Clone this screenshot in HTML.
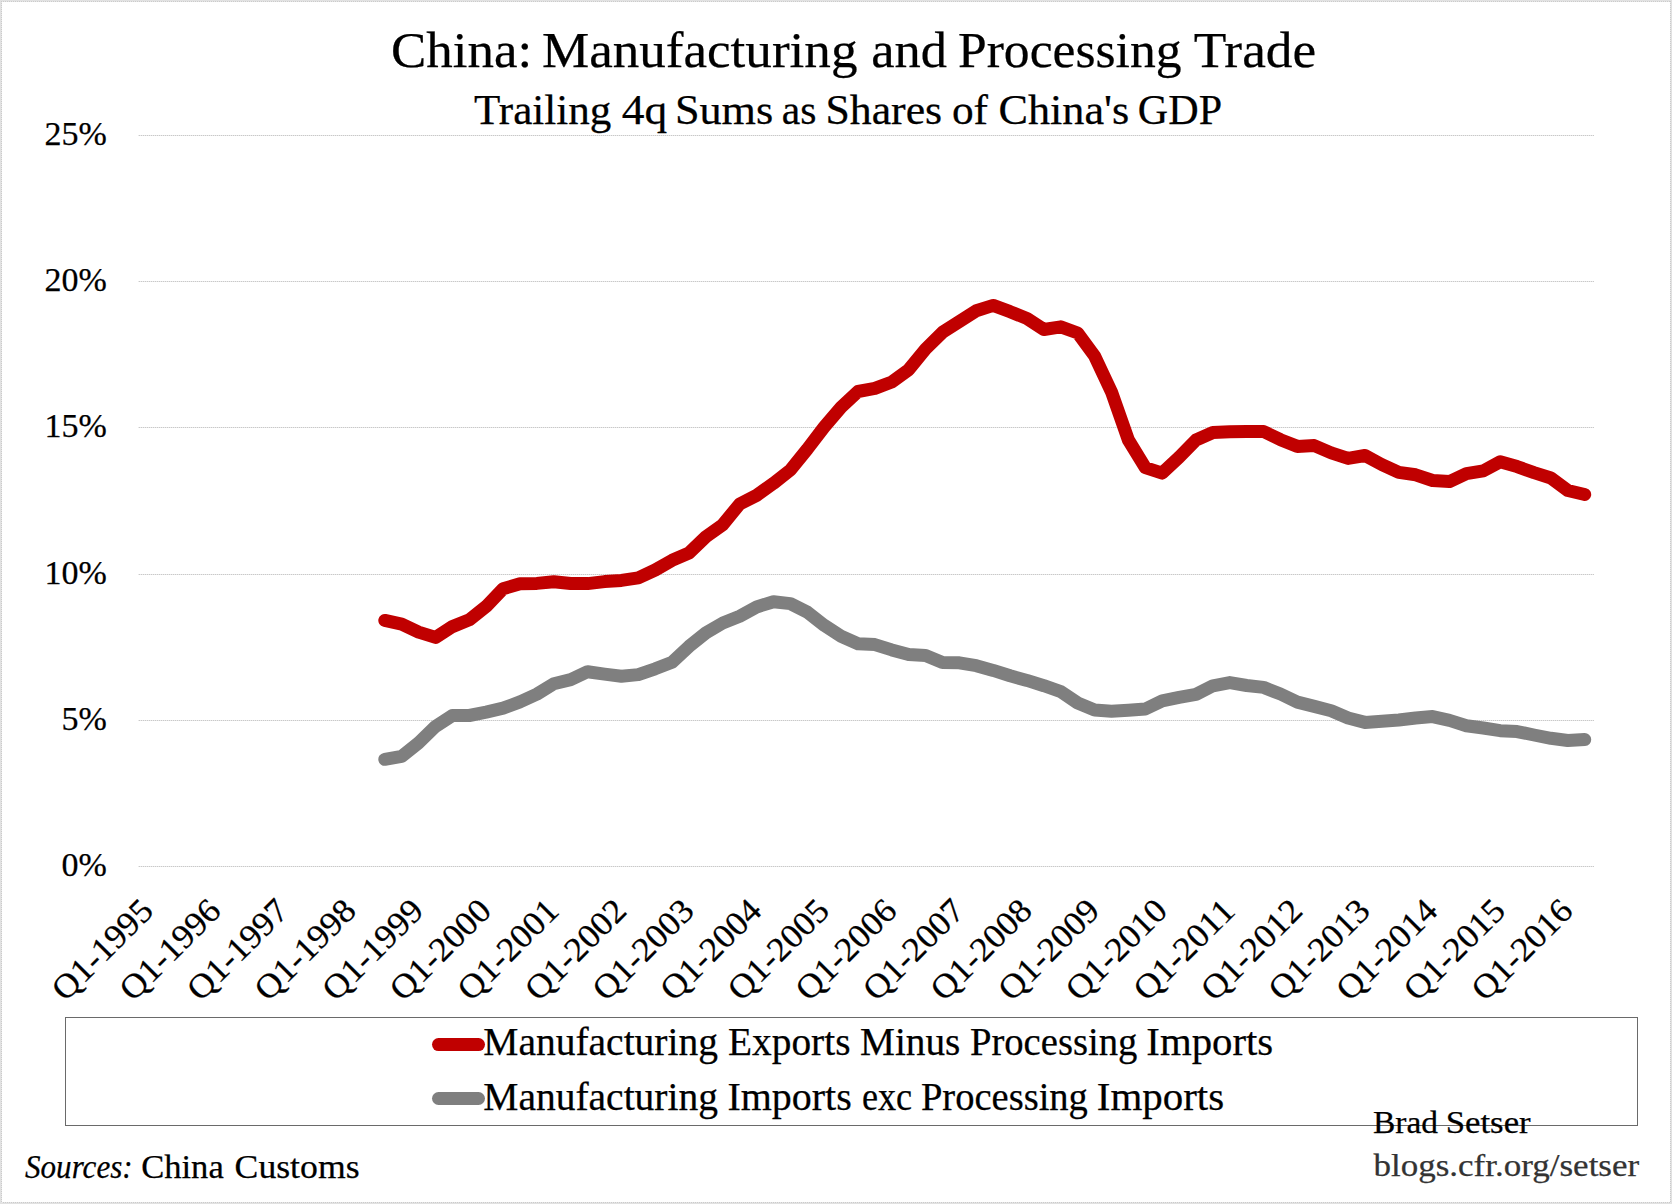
<!DOCTYPE html>
<html lang="en"><head><meta charset="utf-8"><title>China: Manufacturing and Processing Trade</title>
<style>
html,body{margin:0;padding:0;background:#fff;}
body{width:1672px;height:1204px;overflow:hidden;}
svg{display:block;font-family:"Liberation Serif", serif;}
text{fill:#000;stroke:#000;stroke-width:0.25px;}
</style></head><body>
<svg width="1672" height="1204" viewBox="0 0 1672 1204">
<rect x="0" y="0" width="1672" height="1204" fill="#fff"/>

<rect x="0.5" y="0.5" width="1671" height="1203" fill="none" stroke="#e1e1e1" stroke-width="1"/>
<defs><pattern id="ph" width="2" height="1" patternUnits="userSpaceOnUse"><rect width="2" height="1" fill="#e6e6e6"/><rect x="1" width="1" height="1" fill="#cbcbcb"/></pattern><pattern id="pg" width="2" height="1" patternUnits="userSpaceOnUse"><rect width="2" height="1" fill="#e9e9e9"/><rect x="1" width="1" height="1" fill="#c9c9c9"/></pattern><pattern id="pv" width="1" height="2" patternUnits="userSpaceOnUse"><rect width="1" height="2" fill="#e6e6e6"/><rect y="1" width="1" height="1" fill="#cbcbcb"/></pattern></defs>
<g shape-rendering="crispEdges"><rect x="1" y="1" width="1670" height="1" fill="url(#ph)"/><rect x="1" y="1202" width="1670" height="1" fill="url(#ph)"/><rect x="1" y="1" width="1" height="1202" fill="url(#pv)"/><rect x="1670" y="1" width="1" height="1202" fill="url(#pv)"/></g>
<rect x="138" y="135" width="1456" height="1" fill="url(#pg)" shape-rendering="crispEdges"/>
<rect x="138" y="281" width="1456" height="1" fill="url(#pg)" shape-rendering="crispEdges"/>
<rect x="138" y="427" width="1456" height="1" fill="url(#pg)" shape-rendering="crispEdges"/>
<rect x="138" y="574" width="1456" height="1" fill="url(#pg)" shape-rendering="crispEdges"/>
<rect x="138" y="720" width="1456" height="1" fill="url(#pg)" shape-rendering="crispEdges"/>
<rect x="138" y="866" width="1456" height="1" fill="url(#pg)" shape-rendering="crispEdges"/>
<text x="106.8" y="145.2" font-size="34" text-anchor="end">25%</text>
<text x="106.8" y="291.2" font-size="34" text-anchor="end">20%</text>
<text x="106.8" y="437.2" font-size="34" text-anchor="end">15%</text>
<text x="106.8" y="584.2" font-size="34" text-anchor="end">10%</text>
<text x="106.8" y="730.2" font-size="34" text-anchor="end">5%</text>
<text x="106.8" y="876.2" font-size="34" text-anchor="end">0%</text>
<text transform="translate(155.1,912.7) rotate(-45)" font-size="34" text-anchor="end" textLength="127" lengthAdjust="spacingAndGlyphs">Q1-1995</text>
<text transform="translate(222.7,912.7) rotate(-45)" font-size="34" text-anchor="end" textLength="127" lengthAdjust="spacingAndGlyphs">Q1-1996</text>
<text transform="translate(290.3,912.7) rotate(-45)" font-size="34" text-anchor="end" textLength="127" lengthAdjust="spacingAndGlyphs">Q1-1997</text>
<text transform="translate(357.9,912.7) rotate(-45)" font-size="34" text-anchor="end" textLength="127" lengthAdjust="spacingAndGlyphs">Q1-1998</text>
<text transform="translate(425.5,912.7) rotate(-45)" font-size="34" text-anchor="end" textLength="127" lengthAdjust="spacingAndGlyphs">Q1-1999</text>
<text transform="translate(493.1,912.7) rotate(-45)" font-size="34" text-anchor="end" textLength="127" lengthAdjust="spacingAndGlyphs">Q1-2000</text>
<text transform="translate(560.7,912.7) rotate(-45)" font-size="34" text-anchor="end" textLength="127" lengthAdjust="spacingAndGlyphs">Q1-2001</text>
<text transform="translate(628.3,912.7) rotate(-45)" font-size="34" text-anchor="end" textLength="127" lengthAdjust="spacingAndGlyphs">Q1-2002</text>
<text transform="translate(695.9,912.7) rotate(-45)" font-size="34" text-anchor="end" textLength="127" lengthAdjust="spacingAndGlyphs">Q1-2003</text>
<text transform="translate(763.5,912.7) rotate(-45)" font-size="34" text-anchor="end" textLength="127" lengthAdjust="spacingAndGlyphs">Q1-2004</text>
<text transform="translate(831.1,912.7) rotate(-45)" font-size="34" text-anchor="end" textLength="127" lengthAdjust="spacingAndGlyphs">Q1-2005</text>
<text transform="translate(898.7,912.7) rotate(-45)" font-size="34" text-anchor="end" textLength="127" lengthAdjust="spacingAndGlyphs">Q1-2006</text>
<text transform="translate(966.3,912.7) rotate(-45)" font-size="34" text-anchor="end" textLength="127" lengthAdjust="spacingAndGlyphs">Q1-2007</text>
<text transform="translate(1033.9,912.7) rotate(-45)" font-size="34" text-anchor="end" textLength="127" lengthAdjust="spacingAndGlyphs">Q1-2008</text>
<text transform="translate(1101.5,912.7) rotate(-45)" font-size="34" text-anchor="end" textLength="127" lengthAdjust="spacingAndGlyphs">Q1-2009</text>
<text transform="translate(1169.1,912.7) rotate(-45)" font-size="34" text-anchor="end" textLength="127" lengthAdjust="spacingAndGlyphs">Q1-2010</text>
<text transform="translate(1236.7,912.7) rotate(-45)" font-size="34" text-anchor="end" textLength="127" lengthAdjust="spacingAndGlyphs">Q1-2011</text>
<text transform="translate(1304.3,912.7) rotate(-45)" font-size="34" text-anchor="end" textLength="127" lengthAdjust="spacingAndGlyphs">Q1-2012</text>
<text transform="translate(1371.9,912.7) rotate(-45)" font-size="34" text-anchor="end" textLength="127" lengthAdjust="spacingAndGlyphs">Q1-2013</text>
<text transform="translate(1439.5,912.7) rotate(-45)" font-size="34" text-anchor="end" textLength="127" lengthAdjust="spacingAndGlyphs">Q1-2014</text>
<text transform="translate(1507.1,912.7) rotate(-45)" font-size="34" text-anchor="end" textLength="127" lengthAdjust="spacingAndGlyphs">Q1-2015</text>
<text transform="translate(1574.7,912.7) rotate(-45)" font-size="34" text-anchor="end" textLength="127" lengthAdjust="spacingAndGlyphs">Q1-2016</text>
<polyline points="384.8,759.3 401.7,756.3 418.6,742.9 435.5,726.4 452.4,715.6 469.3,715.5 486.2,712.2 503.1,708.2 520.0,701.8 536.9,694.1 553.8,683.7 570.7,679.6 587.6,671.7 604.5,674.1 621.4,676.2 638.3,674.6 655.2,668.8 672.1,662.2 689.0,646.4 705.9,632.9 722.8,623.0 739.7,616.2 756.6,607.0 773.5,601.7 790.4,603.6 807.3,612.1 824.2,625.3 841.1,636.2 858.0,643.7 874.9,644.6 891.8,649.9 908.7,654.6 925.6,655.5 942.5,662.5 959.4,662.8 976.3,665.7 993.2,670.4 1010.1,675.8 1027.0,680.4 1043.9,685.7 1060.8,691.6 1077.7,703.0 1094.6,710.1 1111.5,711.3 1128.4,710.3 1145.3,709.0 1162.2,700.8 1179.1,697.4 1196.0,694.4 1212.9,685.8 1229.8,682.6 1246.7,685.5 1263.6,687.4 1280.5,694.0 1297.4,702.1 1314.3,706.4 1331.2,710.7 1348.1,718.0 1365.0,722.4 1381.9,721.3 1398.8,720.0 1415.7,718.0 1432.6,716.6 1449.5,720.4 1466.4,725.7 1483.3,728.0 1500.2,730.7 1517.1,731.6 1534.0,735.0 1550.9,738.3 1567.8,740.5 1584.7,739.6" fill="none" stroke="#7f7f7f" stroke-width="13" stroke-linecap="round" stroke-linejoin="round"/>
<polyline points="384.8,620.4 401.7,624.1 418.6,632.1 435.5,637.4 452.4,626.6 469.3,619.8 486.2,606.4 503.1,588.7 520.0,583.7 536.9,583.4 553.8,581.7 570.7,583.5 587.6,583.6 604.5,581.6 621.4,580.4 638.3,577.8 655.2,570.0 672.1,560.3 689.0,553.0 705.9,536.8 722.8,524.7 739.7,504.0 756.6,495.4 773.5,483.3 790.4,470.0 807.3,449.1 824.2,427.0 841.1,407.2 858.0,391.5 874.9,388.4 891.8,382.0 908.7,369.7 925.6,349.0 942.5,332.3 959.4,321.5 976.3,310.7 993.2,305.4 1010.1,311.7 1027.0,318.5 1043.9,329.5 1060.8,326.8 1077.7,333.0 1094.6,356.0 1111.5,391.9 1128.4,440.0 1145.3,467.6 1162.2,473.1 1179.1,457.3 1196.0,440.0 1212.9,432.5 1229.8,431.7 1246.7,431.4 1263.6,431.5 1280.5,439.7 1297.4,446.4 1314.3,445.6 1331.2,452.9 1348.1,458.4 1365.0,455.5 1381.9,464.6 1398.8,472.4 1415.7,474.8 1432.6,480.5 1449.5,481.6 1466.4,473.7 1483.3,470.9 1500.2,461.7 1517.1,466.6 1534.0,472.6 1550.9,478.0 1567.8,490.5 1584.7,494.5" fill="none" stroke="#c00000" stroke-width="13" stroke-linecap="round" stroke-linejoin="round"/>
<rect x="65.5" y="1017.5" width="1572" height="108" fill="none" stroke="#6a6a6a" stroke-width="1"/>
<line x1="438.5" y1="1044.6" x2="478.5" y2="1044.6" stroke="#c00000" stroke-width="13" stroke-linecap="round"/>
<line x1="438.5" y1="1098.5" x2="478.5" y2="1098.5" stroke="#7f7f7f" stroke-width="13" stroke-linecap="round"/>
<text x="390.95" y="67.1" font-size="51" textLength="141.21" lengthAdjust="spacingAndGlyphs">China:</text>
<text x="541.97" y="67.1" font-size="51" textLength="315.46" lengthAdjust="spacingAndGlyphs">Manufacturing</text>
<text x="871.26" y="67.1" font-size="51" textLength="75.74" lengthAdjust="spacingAndGlyphs">and</text>
<text x="957.99" y="67.1" font-size="51" textLength="223.51" lengthAdjust="spacingAndGlyphs">Processing</text>
<text x="1193.67" y="67.1" font-size="51" textLength="122.51" lengthAdjust="spacingAndGlyphs">Trade</text>
<text x="474.03" y="123.6" font-size="41.5" textLength="137.25" lengthAdjust="spacingAndGlyphs">Trailing</text>
<text x="621.69" y="123.6" font-size="41.5" textLength="45.42" lengthAdjust="spacingAndGlyphs">4q</text>
<text x="674.94" y="123.6" font-size="41.5" textLength="98.28" lengthAdjust="spacingAndGlyphs">Sums</text>
<text x="781.80" y="123.6" font-size="41.5" textLength="34.64" lengthAdjust="spacingAndGlyphs">as</text>
<text x="825.47" y="123.6" font-size="41.5" textLength="116.64" lengthAdjust="spacingAndGlyphs">Shares</text>
<text x="951.95" y="123.6" font-size="41.5" textLength="36.09" lengthAdjust="spacingAndGlyphs">of</text>
<text x="998.42" y="123.6" font-size="41.5" textLength="130.80" lengthAdjust="spacingAndGlyphs">China&#39;s</text>
<text x="1137.89" y="123.6" font-size="41.5" textLength="84.16" lengthAdjust="spacingAndGlyphs">GDP</text>
<text x="483.28" y="1055.4" font-size="39.6" textLength="234.73" lengthAdjust="spacingAndGlyphs">Manufacturing</text>
<text x="728.09" y="1055.4" font-size="39.6" textLength="122.39" lengthAdjust="spacingAndGlyphs">Exports</text>
<text x="859.99" y="1055.4" font-size="39.6" textLength="100.38" lengthAdjust="spacingAndGlyphs">Minus</text>
<text x="969.90" y="1055.4" font-size="39.6" textLength="167.51" lengthAdjust="spacingAndGlyphs">Processing</text>
<text x="1146.33" y="1055.4" font-size="39.6" textLength="126.89" lengthAdjust="spacingAndGlyphs">Imports</text>
<text x="483.28" y="1109.9" font-size="39.6" textLength="234.73" lengthAdjust="spacingAndGlyphs">Manufacturing</text>
<text x="727.45" y="1109.9" font-size="39.6" textLength="124.34" lengthAdjust="spacingAndGlyphs">Imports</text>
<text x="861.97" y="1109.9" font-size="39.6" textLength="50.23" lengthAdjust="spacingAndGlyphs">exc</text>
<text x="920.90" y="1109.9" font-size="39.6" textLength="167.00" lengthAdjust="spacingAndGlyphs">Processing</text>
<text x="1096.82" y="1109.9" font-size="39.6" textLength="127.30" lengthAdjust="spacingAndGlyphs">Imports</text>
<text x="25.00" y="1178.2" font-size="33.5" textLength="107.70" lengthAdjust="spacingAndGlyphs" font-style="italic">Sources:</text>
<text x="141.22" y="1178.2" font-size="33.5" textLength="82.50" lengthAdjust="spacingAndGlyphs">China</text>
<text x="234.58" y="1178.2" font-size="33.5" textLength="124.98" lengthAdjust="spacingAndGlyphs">Customs</text>
<text x="1372.98" y="1132.7" font-size="32.5" textLength="65.02" lengthAdjust="spacingAndGlyphs">Brad</text>
<text x="1445.73" y="1132.7" font-size="32.5" textLength="84.94" lengthAdjust="spacingAndGlyphs">Setser</text>
<text x="1373.50" y="1176.1" font-size="32" textLength="265.67" lengthAdjust="spacingAndGlyphs" style="fill:#333;stroke:#333">blogs.cfr.org/setser</text>
</svg></body></html>
